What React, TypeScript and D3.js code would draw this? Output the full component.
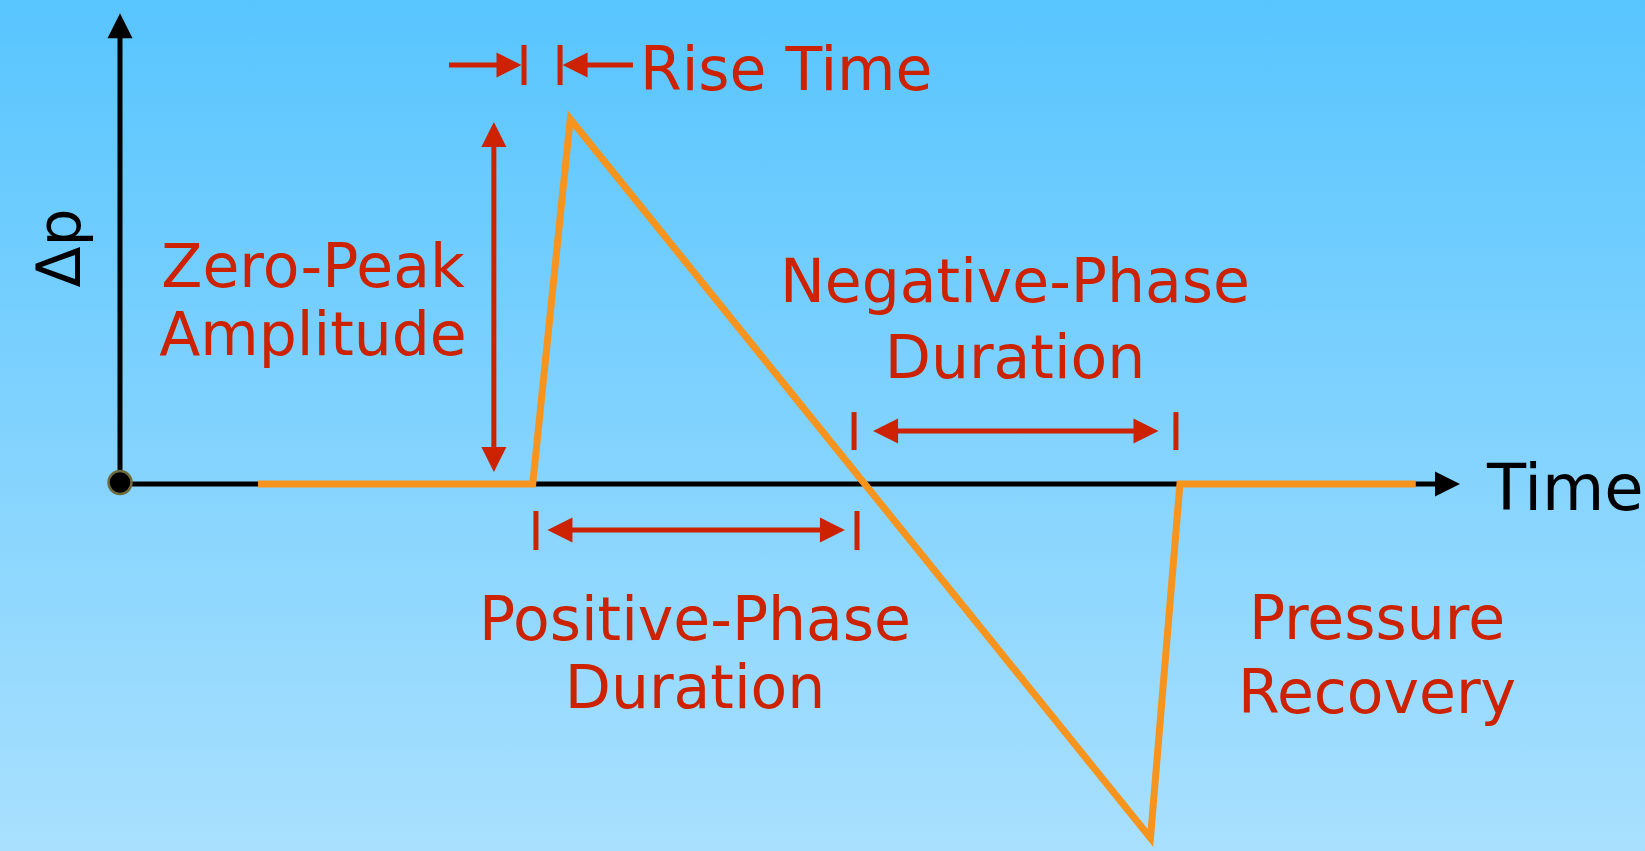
import React, { useEffect, useRef } from 'react';
import * as d3 from 'd3';

// Idealised blast wave (piecewise linear), arbitrary units
const waveTime = [1.03, 3.08, 3.36, 7.69, 7.91, 9.67];
const wavePressure = [0, 0, 1, -0.97, 0, 0];

// Rise time markers (time of the two ticks)
const riseTicks = [3.015, 3.284];
// Zero-peak amplitude span (pressure)
const amplitudeSpan = [0.033, 0.992];
// Positive phase duration (tick times, arrow ends)
const positiveTicks = [3.104, 5.5];
const positiveArrow = [3.19, 5.41];
// Negative phase duration
const negativeTicks = [5.478, 7.88];
const negativeArrow = [5.62, 7.75];

const labels = [
  { lines: ['Zero-Peak', 'Amplitude'] },
  { lines: ['Positive-Phase', 'Duration'] },
  { lines: ['Negative-Phase', 'Duration'] },
  { lines: ['Pressure', 'Recovery'] },
];

const W = 1645;
const H = 851;
const RED = '#cc2200';
const ORANGE = '#f7941d';
const FONT = '"Comic Sans MS", "DejaVu Sans", sans-serif';

const App = () => {
  const ref = useRef<SVGSVGElement>(null);

  useEffect(() => {
    document.body.style.margin = '0';
    const svg = d3.select(ref.current);
    svg.selectAll('*').remove();

    const x = d3.scaleLinear().domain([0, 10]).range([120, 1460]);
    const y = d3.scaleLinear().domain([0, 1]).range([484, 119]);

    // background gradient
    const grad = svg.append('defs').append('linearGradient')
      .attr('id', 'bg').attr('x1', 0).attr('y1', 0).attr('x2', 0).attr('y2', 1);
    grad.append('stop').attr('offset', '0%').attr('stop-color', '#58c5fe');
    grad.append('stop').attr('offset', '100%').attr('stop-color', '#a9e0fe');
    svg.append('rect').attr('width', W).attr('height', H).attr('fill', 'url(#bg)');

    // arrowhead pointing from (x0,y0) to tip (x1,y1)
    const head = (x0, y0, x1, y1, color, len = 25, half = 12.5) => {
      const a = Math.atan2(y1 - y0, x1 - x0);
      const bx = x1 - len * Math.cos(a);
      const by = y1 - len * Math.sin(a);
      const px = -Math.sin(a) * half;
      const py = Math.cos(a) * half;
      svg.append('path')
        .attr('d', `M${x1},${y1}L${bx + px},${by + py}L${bx - px},${by - py}Z`)
        .attr('fill', color);
    };
    const arrow = (x0, y0, x1, y1, color, both = false, w = 5) => {
      const a = Math.atan2(y1 - y0, x1 - x0);
      const sx = both ? x0 + 20 * Math.cos(a) : x0;
      const sy = both ? y0 + 20 * Math.sin(a) : y0;
      svg.append('line')
        .attr('x1', sx).attr('y1', sy)
        .attr('x2', x1 - 20 * Math.cos(a)).attr('y2', y1 - 20 * Math.sin(a))
        .attr('stroke', color).attr('stroke-width', w);
      head(x0, y0, x1, y1, color);
      if (both) head(x1, y1, x0, y0, color);
    };
    const tick = (t, p0, p1) => {
      svg.append('line')
        .attr('x1', x(t)).attr('x2', x(t))
        .attr('y1', y(p0)).attr('y2', y(p1))
        .attr('stroke', RED).attr('stroke-width', 5);
    };

    // axes
    svg.append('line')
      .attr('x1', x(0)).attr('y1', y(0)).attr('x2', x(10) - 20).attr('y2', y(0))
      .attr('stroke', 'black').attr('stroke-width', 5);
    head(x(0), y(0), x(10), y(0), 'black');
    svg.append('line')
      .attr('x1', x(0)).attr('y1', y(0)).attr('x2', x(0)).attr('y2', y(1.29) + 20)
      .attr('stroke', 'black').attr('stroke-width', 5);
    head(x(0), y(0), x(0), y(1.29), 'black');

    // waveform
    const pts = waveTime.map((t, i) => [t, wavePressure[i]] as [number, number]);
    svg.append('path')
      .datum(pts)
      .attr('fill', 'none')
      .attr('stroke', ORANGE)
      .attr('stroke-width', 7)
      .attr('stroke-linejoin', 'miter')
      .attr('stroke-miterlimit', 20)
      .attr('d', d3.line().x(d => x(d[0])).y(d => y(d[1])));

    // origin dot
    svg.append('circle')
      .attr('cx', x(0)).attr('cy', y(0) - 1.5).attr('r', 11.5)
      .attr('fill', 'black').attr('stroke', '#6e6a3c').attr('stroke-width', 2.5);

    // rise time
    riseTicks.forEach(t => tick(t, 1.203, 1.093));
    arrow(x(2.455), y(1.148), x(riseTicks[0]) - 2.5, y(1.148), RED);
    arrow(x(3.828), y(1.148), x(riseTicks[1]) + 2.5, y(1.148), RED);

    // zero-peak amplitude
    arrow(x(2.79), y(amplitudeSpan[0]), x(2.79), y(amplitudeSpan[1]), RED, true);

    // positive phase
    positiveTicks.forEach(t => tick(t, -0.074, -0.181));
    arrow(x(positiveArrow[0]), y(-0.126), x(positiveArrow[1]), y(-0.126), RED, true);

    // negative phase
    negativeTicks.forEach(t => tick(t, 0.197, 0.093));
    arrow(x(negativeArrow[0]), y(0.145), x(negativeArrow[1]), y(0.145), RED, true);

    // labels
    const text = svg.append('g').attr('font-family', FONT).attr('font-size', 60).attr('fill', RED);
    text.append('text').attr('x', 640).attr('y', 90).text('Rise Time');

    const labelPos = [
      { cx: 313, base: [287, 355] },
      { cx: 695, base: [640, 708] },
      { cx: 1015, base: [302, 378] },
      { cx: 1377, base: [639, 713] },
    ];
    labels.forEach((l, i) => {
      l.lines.forEach((s, j) => {
        text.append('text')
          .attr('x', labelPos[i].cx)
          .attr('y', labelPos[i].base[j])
          .attr('text-anchor', 'middle')
          .text(s);
      });
    });

    svg.append('text')
      .attr('x', 1487).attr('y', 510)
      .attr('font-family', FONT).attr('font-size', 64).attr('fill', 'black')
      .text('Time');

    svg.append('text')
      .attr('transform', 'translate(80,248) rotate(-90)')
      .attr('text-anchor', 'middle')
      .attr('font-family', FONT).attr('font-size', 60).attr('fill', 'black')
      .text('Δp');
  }, []);

  return <svg ref={ref} width={W} height={H} style={{ display: 'block' }} />;
};

export default App;
